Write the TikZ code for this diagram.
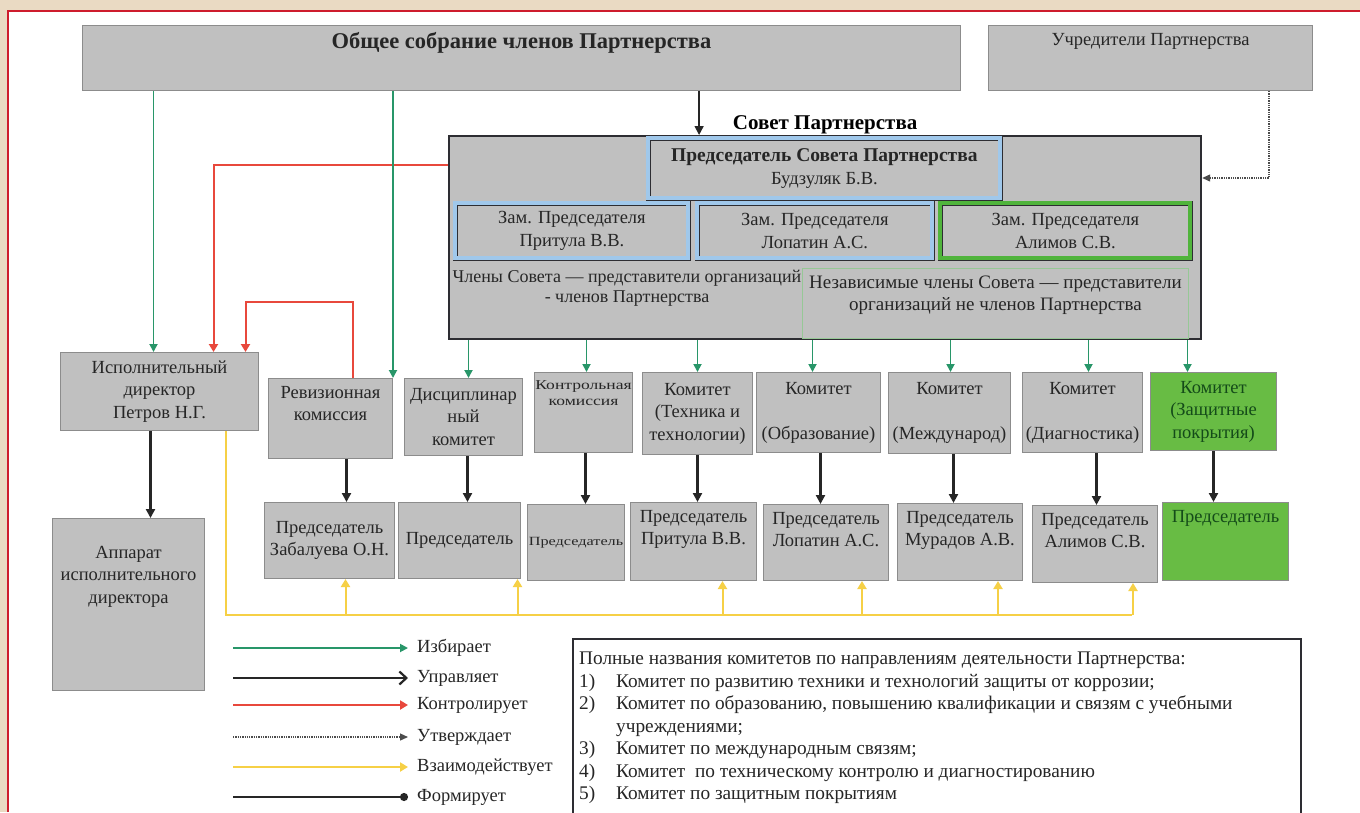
\documentclass[tikz,border=0pt]{standalone}
\usepackage{fontspec}
\setmainfont{Liberation Serif}
\newfontfamily\wideserif{Liberation Serif}[FakeStretch=1.3]
\usetikzlibrary{arrows.meta}

\definecolor{boxfill}{RGB}{192,192,192}
\definecolor{boxline}{RGB}{140,140,140}
\definecolor{darkline}{RGB}{45,45,50}
\definecolor{blueband}{RGB}{160,200,235}
\definecolor{greenband}{RGB}{80,180,60}
\definecolor{greenfill}{RGB}{104,188,68}
\definecolor{greentext}{RGB}{20,75,25}
\definecolor{indepline}{RGB}{150,200,150}
\definecolor{electcol}{RGB}{40,150,105}
\definecolor{ctrlcol}{RGB}{232,72,60}
\definecolor{intercol}{RGB}{246,208,70}
\definecolor{framebeige}{RGB}{234,218,195}
\definecolor{framered}{RGB}{206,28,45}

\tikzset{
  dim/.style 2 args={minimum width=#1pt, minimum height=#2pt},
  box/.style={draw=boxline, fill=boxfill, line width=1pt, anchor=north west, inner sep=0pt, align=center, text=black!85},
  txt/.style={anchor=north, inner sep=8pt, align=center, text=black!85},
  bluebox/.style={box, draw=darkline, double=blueband, double distance=4pt, line width=0.8pt},
  greenbox/.style={box, draw=darkline, double=greenband, double distance=4pt, line width=0.8pt},
  leg/.style={anchor=west, inner sep=0pt, text=black!85},
  electline/.style={draw=electcol, line width=1.8pt, -{Triangle[length=8pt,width=8pt]}},
  manageline/.style={draw=black!85, line width=2.2pt, -{Triangle[length=9pt,width=9pt]}},
  legmanage/.style={draw=black!85, line width=2.2pt, -{Straight Barb[length=7pt,width=13pt]}},
  controlline/.style={draw=ctrlcol, line width=2pt, -{Triangle[length=8pt,width=9pt]}},
  approveline/.style={draw=black!70, line width=1.3pt, densely dotted, -{Triangle[length=8pt,width=7pt]}},
  interactline/.style={draw=intercol, line width=2pt, -{Triangle[length=8pt,width=9pt]}},
  formline/.style={draw=black!85, line width=2.2pt, -{Circle[length=8pt]}}
}

\begin{document}
\begin{tikzpicture}[x=1pt, y=-1pt, font=\fontsize{18.5}{22.5}\selectfont]
\useasboundingbox (0,0) rectangle (1360,812);
\clip (0,0) rectangle (1360,812);
\fill[white] (0,0) rectangle (1360,812);
\fill[framebeige] (0,0) rectangle (1360,10);
\fill[framebeige] (0,0) rectangle (7,812);
\draw[framered, line width=2.5pt] (8,812) -- (8,11) -- (1360,11);

\node[box, dim={878}{65}] (gen) at (82,25) {};
\node[txt, inner sep=7pt, font=\bfseries\fontsize{22.5}{26}\selectfont] at (gen.north) {Общее собрание членов Партнерства};
\node[box, dim={324}{65}] (found) at (988,25) {};
\node[txt] at (found.north) {Учредители Партнерства};

\node[box, draw=darkline, line width=2.2pt, dim={752}{203}] (sovet) at (448,135) {};
\node[anchor=south, inner sep=1pt, font=\bfseries\fontsize{21}{25}\selectfont] (sovetname) at (sovet.north) {Совет Партнерства};
\node[bluebox, dim={352}{60}] (chair) at (648,138) {{\bfseries\fontsize{19.5}{22.5}\selectfont Председатель Совета Партнерства}\\Будзуляк Б.В.};
\node[bluebox, dim={233}{55}] (dep1) at (455,203) {Зам. Председателя\\Притула В.В.};
\node[bluebox, dim={235}{55}] (dep2) at (697,203) {Зам. Председателя\\Лопатин А.С.};
\node[greenbox, dim={250}{55}] (dep3) at (940,203) {Зам. Председателя\\Алимов С.В.};
\node[align=center, inner sep=0pt, text=black!85, font=\fontsize{18}{20.5}\selectfont] (members) at (627,288) {Члены Совета — представители организаций\\- членов Партнерства};
\node[box, fill=none, draw=indepline, dim={386}{70}] (indep) at (802,268) {};
\node[txt, font=\fontsize{19}{22}\selectfont] at (indep.north) {Независимые члены Совета — представители\\организаций не членов Партнерства};

\node[box, dim={198}{78}] (exec) at (60,352) {Исполнительный\\директор\\Петров Н.Г.};
\node[box, dim={152}{172}] (staff) at (52,518) {};
\node[txt, inner sep=28pt] at (staff.north) {Аппарат\\исполнительного\\директора};

\node[box, dim={124}{80}] (audit) at (268,378) {};
\node[txt] at (audit.north) {Ревизионная\\комиссия};
\node[box, dim={118}{77}] (disc) at (404,378) {Дисциплинар\\ный\\комитет};
\node[box, dim={98}{80}] (ctrl) at (534,372) {};
\node[txt, font=\wideserif\fontsize{13.5}{16}\selectfont] at (ctrl.north) {Контрольная\\комиссия};
\node[box, dim={110}{82}] (tech) at (642,372) {Комитет\\(Техника и\\технологии)};
\node[box, dim={124}{80}] (edu) at (756,372) {Комитет\\[22.5pt](Образование)};
\node[box, dim={122}{81}] (intl) at (888,372) {Комитет\\[22.5pt](Международ)};
\node[box, dim={120}{80}] (diag) at (1022,372) {Комитет\\[22.5pt](Диагностика)};
\node[box, fill=greenfill, text=greentext, dim={126}{78}] (coat) at (1150,372) {Комитет\\(Защитные\\покрытия)};

\node[box, dim={130}{76}] (chA) at (264,502) {Председатель\\Забалуева О.Н.};
\node[box, dim={122}{76}] (chB) at (398,502) {Председатель};
\node[box, dim={97}{76}] (chC) at (527,504) {\wideserif\fontsize{12.5}{15}\selectfont Председатель};
\node[box, dim={126}{78}] (chD) at (630,502) {};
\node[txt] at (chD.north) {Председатель\\Притула В.В.};
\node[box, dim={125}{76}] (chE) at (763,504) {};
\node[txt] at (chE.north) {Председатель\\Лопатин А.С.};
\node[box, dim={125}{77}] (chF) at (897,503) {};
\node[txt] at (chF.north) {Председатель\\Мурадов А.В.};
\node[box, dim={125}{77}] (chG) at (1032,505) {};
\node[txt] at (chG.north) {Председатель\\Алимов С.В.};
\node[box, fill=greenfill, dim={126}{78}] (chH) at (1162,502) {};
\node[txt, text=greentext] at (chH.north) {Председатель};

\draw[manageline, line width=1.6pt] ([xshift=-126pt]sovet.north |- gen.south) -- ([xshift=-126pt]sovet.north);
\draw[approveline] ([xshift=-44pt]found.south east) |- ([yshift=-43pt]sovet.north east);

\draw[controlline] ([yshift=-30pt]sovet.north west) -| ([xshift=54pt]exec.north);
\draw[controlline] ([xshift=22pt]audit.north) -- ++(0,-76) -| ([xshift=86pt]exec.north);

\draw[electline] ([xshift=-6pt]exec.north |- gen.south) -- ([xshift=-6pt]exec.north);
\draw[electline] (audit.north east |- gen.south) -- (audit.north east);
\foreach \c/\s in {disc/5,ctrl/3,tech/0,edu/-6,intl/1,diag/6,coat/-26}
  \draw[electline] ([xshift=\s pt]\c.north |- sovet.south) -- ([xshift=\s pt]\c.north);

\draw[manageline] ([xshift=-9pt]exec.south) -- ([xshift=-9pt]exec.south |- staff.north);
\foreach \a/\b/\s in {audit/chA/16,disc/chB/4,ctrl/chC/2,tech/chD/0,edu/chE/2,intl/chF/4,diag/chG/14,coat/chH/0}
  \draw[manageline] ([xshift=\s pt]\a.south) -- ([xshift=\s pt]\a.south |- \b.north);

\coordinate (busend) at (1132,615);
\draw[interactline, -] ([xshift=66pt]exec.south) |- (busend);
\foreach \c/\s in {chA/16,chB/58,chD/29,chE/36,chF/38,chG/38}
  \draw[interactline] ([xshift=\s pt]\c.south |- busend) -- ([xshift=\s pt]\c.south);

\foreach \y/\st/\lbl [count=\i] in {648/electline/Избирает, 678/legmanage/Управляет, 705/controlline/Контролирует, 737/approveline/Утверждает, 767/interactline/Взаимодействует, 797/formline/Формирует} {
  \node[leg] (leg\i) at (417,\y) {\lbl};
  \draw[\st] ([xshift=-184pt]leg\i.west) -- ([xshift=-9pt]leg\i.west);
}

\node[box, fill=white, draw=darkline, line width=1.5pt, dim={728}{200}] (notes) at (572,638) {};
\node[anchor=north west, inner xsep=7pt, inner ysep=14pt, align=left, text=black!85, font=\fontsize{19.3}{22.5}\selectfont] (notetext) at (notes.north west) {Полные названия комитетов по направлениям деятельности Партнерства:\\
\makebox[37pt][l]{1)}Комитет по развитию техники и технологий защиты от коррозии;\\
\makebox[37pt][l]{2)}Комитет по образованию, повышению квалификации и связям с учебными\\
\hspace*{37pt}учреждениями;\\
\makebox[37pt][l]{3)}Комитет по международным связям;\\
\makebox[37pt][l]{4)}Комитет~ по техническому контролю и диагностированию\\
\makebox[37pt][l]{5)}Комитет по защитным покрытиям};
\end{tikzpicture}
\end{document}
